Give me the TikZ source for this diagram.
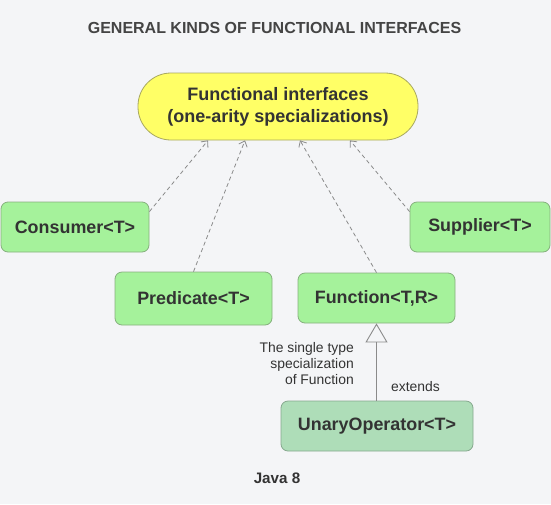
\documentclass[tikz,border=0pt]{standalone}
\usepackage{fontspec}
\setmainfont{Liberation Sans}
\usetikzlibrary{arrows.meta,calc}
\definecolor{bgc}{HTML}{F4F5F7}
\definecolor{txt}{HTML}{333333}
\definecolor{titlec}{HTML}{444444}
\definecolor{greenfill}{HTML}{A5F29B}
\definecolor{greendraw}{HTML}{86B07E}
\definecolor{unaryfill}{HTML}{AEDDB8}
\definecolor{unarydraw}{HTML}{86A88E}
\definecolor{yellowfill}{HTML}{FFFF66}
\definecolor{yellowdraw}{HTML}{A8A860}
\definecolor{arrowc}{HTML}{8A8A8A}
\tikzset{
  box/.style={draw=greendraw, fill=greenfill, rounded corners=7pt, line width=0.8pt,
    text=txt, font=\fontsize{17.9}{21}\selectfont\bfseries, inner sep=0pt, align=center},
  dep/.style={draw=arrowc, dashed, dash pattern=on 4pt off 3pt, line width=0.8pt,
    -{Straight Barb[length=5pt,width=9pt]}},
  gen/.style={draw=arrowc, line width=0.9pt,
    -{Triangle[open,length=19pt,width=22pt,fill=bgc]}},
  lbl/.style={text=txt, font=\fontsize{13.9}{16}\selectfont, inner sep=0pt}
}
\begin{document}
\begin{tikzpicture}[x=1pt,y=-1pt]
\fill[bgc] (0,0) rectangle (551,504);
\useasboundingbox (0,0) rectangle (551,504);
\node[text=titlec, font=\fontsize{16}{19}\selectfont\bfseries] (title) at (274.5,28) {GENERAL KINDS OF FUNCTIONAL INTERFACES};
\node[draw=yellowdraw, fill=yellowfill, rounded corners=33pt, line width=0.8pt, minimum width=280pt, minimum height=67pt,
  text=txt, font=\fontsize{18}{22}\selectfont\bfseries, align=center, inner sep=0pt] (top) at (278,106.5)
  {Functional interfaces\\(one-arity specializations)};
\node[box, minimum width=148pt, minimum height=50pt] (consumer) at (75,227) {Consumer<T>};
\node[box, minimum width=157pt, minimum height=53pt] (predicate) at (193.5,298.5) {Predicate<T>};
\node[box, minimum width=157pt, minimum height=50pt] (function) at (376.5,298) {Function<T,R>};
\node[box, minimum width=140pt, minimum height=50pt] (supplier) at (480,227) {Supplier<T>};
\node[box, draw=unarydraw, fill=unaryfill, minimum width=192pt, minimum height=50pt] (unary) at (377,426) {UnaryOperator<T>};
\node[text=txt, font=\fontsize{15.2}{18}\selectfont\bfseries] (java) at (277,478) {Java 8};
\draw[dep] ([yshift=-10pt]consumer.north east) -- ([xshift=-70pt]top.south);
\draw[dep] (predicate.north) -- ([xshift=-33pt]top.south);
\draw[dep] (function.north) -- ([xshift=22pt]top.south);
\draw[dep] ([yshift=-10pt]supplier.north west) -- ([xshift=72pt]top.south);
\draw[gen] (unary.north -| function.south) -- (function.south);
\node[lbl, anchor=west] (ext) at (391,387) {extends};
\node[lbl, align=right, anchor=east] (spec) at (354,364) {The single type\\specialization\\of Function};
\end{tikzpicture}
\end{document}
